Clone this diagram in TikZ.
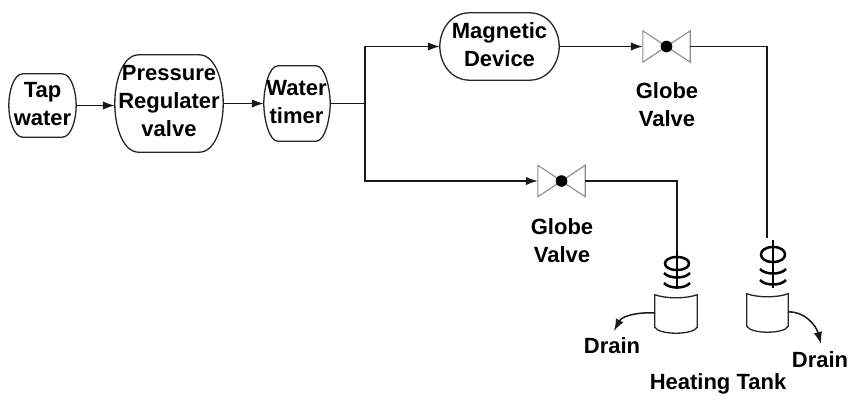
\documentclass[tikz,border=0pt]{standalone}
\usepackage{fontspec}
\setmainfont{Liberation Sans}
\usetikzlibrary{arrows.meta,calc}
\tikzset{
  line/.style={draw=black!90,line width=1.5pt},
  flow/.style={line,-{Latex[length=12pt,width=8.5pt]}},
  shapeline/.style={draw=black!85,line width=1.3pt},
  lbl/.style={inner sep=0pt,align=center,font=\fontsize{22}{28}\selectfont\bfseries,text=black},
  box/.style={inner sep=0pt,minimum width=#1},
  valvebody/.style={draw=black!45,line width=1.1pt,fill=white},
  anchorbox/.style={inner sep=0pt,minimum width=47pt,minimum height=31pt},
  tankbox/.style={inner sep=0pt,minimum width=42pt,minimum height=36pt},
  coilline/.style={draw=black,line width=2.5pt}
}
% outline with bulging sides: name, corner inset a, side bulge b
\newcommand{\outl}[3]{%
  \draw[shapeline] ($(#1.north west)+(#2,0)$) -- ($(#1.north east)+(-#2,0)$)
    .. controls ($(#1.north east)+(-#2*0.35,0)$) and ($(#1.east)+(0,-#3)$) .. (#1.east)
    .. controls ($(#1.east)+(0,#3)$) and ($(#1.south east)+(-#2*0.35,0)$) .. ($(#1.south east)+(-#2,0)$)
    -- ($(#1.south west)+(#2,0)$)
    .. controls ($(#1.south west)+(#2*0.35,0)$) and ($(#1.west)+(0,#3)$) .. (#1.west)
    .. controls ($(#1.west)+(0,-#3)$) and ($(#1.north west)+(#2*0.35,0)$) .. cycle;}
\newcommand{\valvedraw}[1]{%
  \draw[valvebody] (#1.north west) -- (#1.center) -- (#1.south west) -- cycle;
  \draw[valvebody] (#1.north east) -- (#1.center) -- (#1.south east) -- cycle;
  \fill[black] (#1.center) circle (5.8pt);}
% coil: x, stem top, loop top, loop bottom, chevron 1 low, chevron 2 low, stem end
\newcommand{\coildraw}[7]{%
  \draw[coilline] (#1,#2) -- (#1,#7);
  \draw[coilline] (#1,#3) .. controls (#1+16,#3) and (#1+16,#4) .. (#1,#4)
     .. controls (#1-16,#4) and (#1-16,#3) .. (#1,#3);
  \draw[coilline] (#1-13,#5-5) .. controls (#1-8,#5+1) and (#1+8,#5+1) .. (#1+13,#5-5);
  \draw[coilline] (#1-13,#6-5) .. controls (#1-8,#6+1) and (#1+8,#6+1) .. (#1+13,#6-5);}
\newcommand{\tankdraw}[1]{%
  \draw[shapeline] (#1.north west) .. controls ($(#1.north west)+(12,4)$) and ($(#1.north east)+(-12,4)$) .. (#1.north east)
    -- ($(#1.south east)+(0,-4)$) .. controls ($(#1.south east)+(-4,4)$) and ($(#1.south west)+(4,4)$) .. ($(#1.south west)+(0,-4)$) -- cycle;}
\begin{document}
\begin{tikzpicture}[x=1pt,y=-1pt]
\useasboundingbox (0,0) rectangle (851,402);
\fill[white] (0,0) rectangle (851,402);
% process nodes
\node[box=67pt,minimum height=63pt] (tap) at (42.5,105.5) {};
\node[box=108pt,minimum height=97pt] (press) at (169,103.5) {};
\node[box=66pt,minimum height=75pt] (timer) at (297,103.5) {};
\node[box=119pt,minimum height=67pt] (mag) at (499.5,46.5) {};
\outl{tap}{14}{14}
\outl{press}{24}{24}
\outl{timer}{14}{14}
\outl{mag}{30}{16}
\node[lbl] (tapt) at (42.5,104.5) {Tap\\water};
\node[lbl] (presst) at (169,101.5) {Pressure\\Regulater\\valve};
\node[lbl] (timert) at (296.5,102) {Water\\timer};
\node[lbl] (magt) at (499.5,44.5) {Magnetic\\Device};
% valves
\node[anchorbox] (v1) at (666.5,46.5) {};
\node[anchorbox] (v2) at (561.5,181) {};
\valvedraw{v1}
\valvedraw{v2}
\node[lbl] (v1t) at (667,105) {Globe\\Valve};
\node[lbl] (v2t) at (562,241) {Globe\\Valve};
% tanks
\node[tankbox,minimum width=42pt] (t1) at (676,313) {};
\node[tankbox,minimum width=41pt] (t2) at (767.5,312) {};
\tankdraw{t1}
\tankdraw{t2}
\coildraw{677}{250}{257}{270}{278}{288}{289}
\coildraw{773}{240}{247}{262}{274}{285}{288}
% labels
\node[lbl] (d1) at (612,346) {Drain};
\node[lbl] (d2) at (820,360) {Drain};
\node[lbl] (ht) at (718,384) {Heating Tank};
% connectors
\coordinate (j) at (365,103.5);
\coordinate (c1) at (677,251);
\coordinate (c2) at (767,238);
\coordinate (e1) at (614,331);
\coordinate (e2) at (821,344);
\draw[flow] (tap.east) -- (tap.east -| press.west);
\draw[flow] (press.east) -- (timer.west);
\draw[line] (timer.east) -- (j);
\draw[flow] (j) |- (mag.west);
\draw[flow] (j) |- (v2.west);
\draw[flow] (mag.east) -- (v1.west);
\draw[line] (v1.east) -| (c2);
\draw[line] (v2.east) -| (c1);
\draw[flow] (t1.west) .. controls (637,312) and (622,316) .. (e1);
\draw[flow] (t2.east) .. controls (804,311) and (816,325) .. (e2);
\end{tikzpicture}
\end{document}
